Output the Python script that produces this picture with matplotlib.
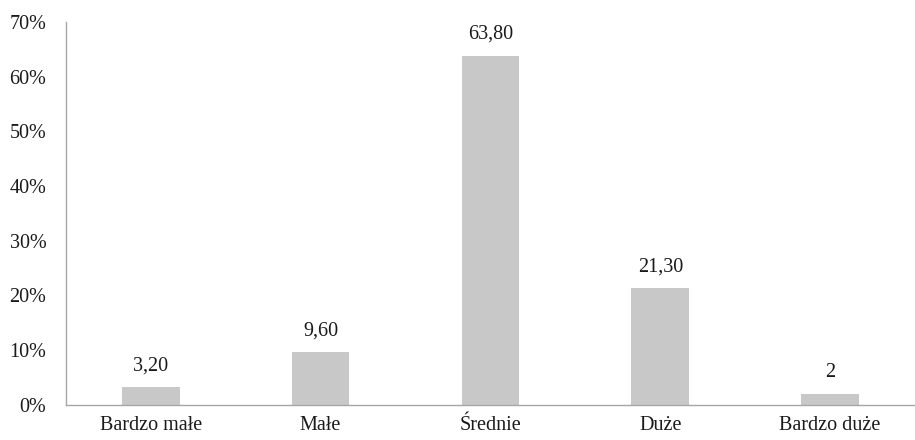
import matplotlib
matplotlib.use("Agg")
import matplotlib.pyplot as plt
from matplotlib.ticker import FuncFormatter

categories = ["Bardzo małe", "Małe", "Średnie", "Duże", "Bardzo duże"]
values = [3.20, 9.60, 63.80, 21.30, 2]
value_labels = ["3,20", "9,60", "63,80", "21,30", "2"]

plt.rcParams["font.family"] = ["Liberation Serif", "DejaVu Serif"]

fig = plt.figure(figsize=(9.15, 4.4), dpi=100)
ax = fig.add_axes([0.072, 0.08, 0.928, 0.87])

x = range(len(categories))
bars = ax.bar(x, values, width=0.34, color="#c8c8c8")

for b, lab in zip(bars, value_labels):
    ax.text(b.get_x() + b.get_width() / 2, b.get_height() + 2.2, lab,
            ha="center", va="bottom", fontsize=14.5, color="#1a1a1a")

ax.set_xlim(-0.5, len(categories) - 0.5)
ax.set_ylim(0, 70)
ax.set_yticks(range(0, 71, 10))
ax.yaxis.set_major_formatter(FuncFormatter(lambda v, p: f"{int(v)}%"))
ax.set_xticks(list(x))
ax.set_xticklabels(categories)
ax.tick_params(length=0, labelsize=14.5, colors="#1a1a1a")
ax.tick_params(axis="y", pad=14)
ax.tick_params(axis="x", pad=8)

for s in ["top", "right"]:
    ax.spines[s].set_visible(False)
for s in ["left", "bottom"]:
    ax.spines[s].set_color("#a6a6a6")
    ax.spines[s].set_linewidth(1.0)

fig.savefig("out.png", dpi=100)
